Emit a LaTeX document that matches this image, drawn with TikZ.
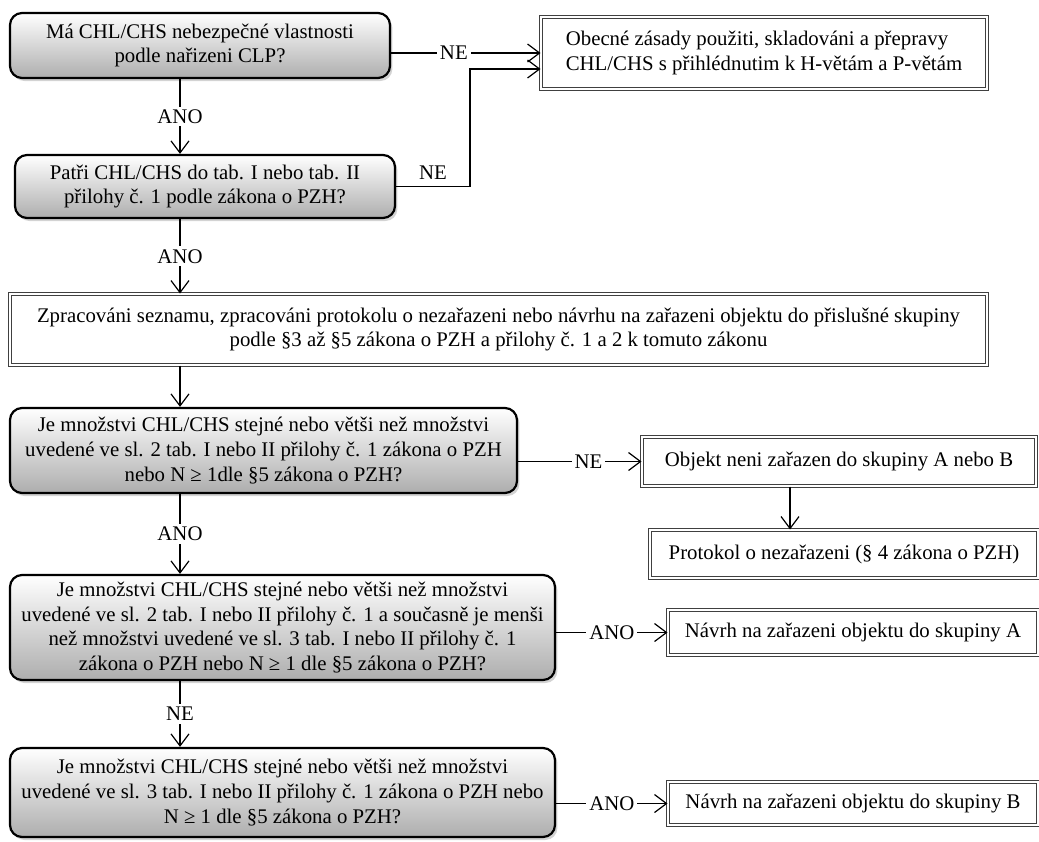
\documentclass[tikz,border=0pt]{standalone}
\usepackage{fontspec}
\setmainfont{Liberation Serif}
\usetikzlibrary{arrows.meta,shadows}

\begin{document}
\begin{tikzpicture}[x=0.5pt,y=-0.5pt,font=\fontsize{10.4}{12.3}\selectfont,
    otazka/.style={draw=black,line width=1.1pt,rounded corners=6pt,top color=white,bottom color=black!32,
        drop shadow={opacity=0.35,shadow xshift=1.2pt,shadow yshift=-1.5pt},align=center,inner sep=0pt},
    krok/.style={draw=black!75,line width=0.5pt,double=white,double distance=0.8pt,fill=white,align=center,inner sep=0pt},
    sipka/.style={line width=0.6pt,-{Straight Barb[length=6pt,width=9pt]}},
    vetev/.style={fill=white,inner sep=1.5pt}]
    \useasboundingbox (0,0) rectangle (1039,841);
    \coordinate (osa) at (180,0);
    \coordinate (ohyb) at (470,0);
    \node[otazka,minimum width=190pt,minimum height=32.5pt] (q1) at (200,45.5) {Má CHL/CHS nebezpečné vlastnosti\\podle nařizeni CLP?};
    \node[otazka,minimum width=190pt,minimum height=31.5pt] (q2) at (205,186.5) {Patři CHL/CHS do tab. I nebo tab. II\\přilohy č. 1 podle zákona o PZH?};
    \node[krok,align=left,minimum width=223pt,minimum height=36pt] (obec) at (764,53) {Obecné zásady použiti, skladováni a přepravy\\CHL/CHS s přihlédnutim k H-větám a P-větám};
    \node[krok,minimum width=488.5pt,minimum height=35.5pt] (q3) at (498.5,329.5) {Zpracováni seznamu, zpracováni protokolu o nezařazeni nebo návrhu na zařazeni objektu do přislušné skupiny\\podle §3 až §5 zákona o PZH a přilohy č. 1 a 2 k tomuto zákonu};
    \node[otazka,minimum width=253.5pt,minimum height=42.5pt] (q4) at (263.5,450.5) {Je množstvi CHL/CHS stejné nebo větši než množstvi\\uvedené ve sl. 2 tab. I nebo II přilohy č. 1 zákona o PZH\\nebo N ≥ 1dle §5 zákona o PZH?};
    \node[krok,minimum width=197pt,minimum height=24.5pt] (q5) at (839,461.5) {Objekt neni zařazen do skupiny A nebo B};
    \node[krok,minimum width=194pt,minimum height=24pt] (q6) at (844,554) {Protokol o nezařazeni (§ 4 zákona o PZH)};
    \node[otazka,minimum width=272.5pt,minimum height=52.5pt] (q7) at (282.5,627.5) {Je množstvi CHL/CHS stejné nebo větši než množstvi\\uvedené ve sl. 2 tab. I nebo II přilohy č. 1 a současně je menši\\než množstvi uvedené ve sl. 3 tab. I nebo II přilohy č. 1\\zákona o PZH nebo N ≥ 1 dle §5 zákona o PZH?};
    \node[krok,minimum width=185pt,minimum height=22.5pt] (q8) at (853,632.5) {Návrh na zařazeni objektu do skupiny A};
    \node[otazka,minimum width=272.5pt,minimum height=44.5pt] (q9) at (282.5,792.5) {Je množstvi CHL/CHS stejné nebo větši než množstvi\\uvedené ve sl. 3 tab. I nebo II přilohy č. 1 zákona o PZH nebo\\N ≥ 1 dle §5 zákona o PZH?};
    \node[krok,minimum width=185pt,minimum height=21.5pt] (q10) at (853,803.5) {Návrh na zařazeni objektu do skupiny B};
    \draw[sipka] (q1.east |- obec.west) -- node[vetev,pos=0.42]{NE} (obec.west);
    \draw[sipka] (q2.east) -- node[above]{NE} (q2.east -| ohyb) |- ([yshift=-8pt]obec.west);
    \draw[sipka] (q1.south -| osa) -- node[vetev]{ANO} (q2.north -| osa);
    \draw[sipka] (q2.south -| osa) -- node[vetev]{ANO} (q3.north -| osa);
    \draw[sipka] (q3.south -| osa) -- (q4.north -| osa);
    \draw[sipka] (q4.south -| osa) -- node[vetev]{ANO} (q7.north -| osa);
    \draw[sipka] (q7.south -| osa) -- node[vetev]{NE} (q9.north -| osa);
    \draw[sipka] (q4.east |- q5.west) -- node[vetev,pos=0.57]{NE} (q5.west);
    \draw[sipka] ([xshift=-24.5pt]q5.south) -- ([xshift=-24.5pt]q5.south |- q6.north);
    \draw[sipka] (q7.east |- q8.west) -- node[vetev]{ANO} (q8.west);
    \draw[sipka] (q9.east |- q10.west) -- node[vetev]{ANO} (q10.west);
\end{tikzpicture}
\end{document}
